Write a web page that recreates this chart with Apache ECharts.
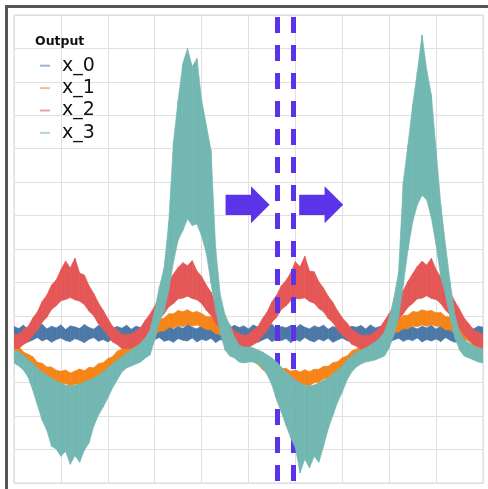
<!DOCTYPE html>
<html>
<head>
<meta charset="utf-8">
<script src="https://cdn.jsdelivr.net/npm/echarts@6/dist/echarts.min.js"></script>
<style>
  html, body { margin: 0; padding: 0; background: #fff; }
  #chart { width: 488px; height: 489px; }
</style>
</head>
<body>
<div id="chart"></div>
<script>
// Four noisy outputs sampled every 0.1 time units; each is stored as the
// upper and lower edge of its noise band.
const seriesNames = ['x_0', 'x_1', 'x_2', 'x_3'];
const sampleStep = 0.1;

const x0Upper = [
  4.68,4.62,4.72,4.60,4.70,4.66,4.75,4.61,4.69,4.64,
  4.73,4.59,4.70,4.67,4.62,4.74,4.65,4.60,4.71,4.66,
  4.76,4.62,4.68,4.63,4.72,4.60,4.69,4.65,4.74,4.61,
  4.70,4.64,4.67,4.73,4.60,4.69,4.62,4.75,4.66,4.61,
  4.71,4.64,4.68,4.74,4.60,4.67,4.63,4.72,4.65,4.70,
  4.61,4.73,4.66,4.62,4.69,4.75,4.60,4.68,4.64,4.71,
  4.62,4.74,4.66,4.61,4.70,4.65,4.72,4.60,4.68,4.63,
  4.75,4.62,4.69,4.66,4.71,4.61,4.73,4.64,4.68,4.60,
  4.72,4.65,4.70,4.62,4.74,4.67,4.61,4.69,4.64,4.72,
  4.60,4.70,4.66,4.73,4.62,4.68,4.64,4.71,4.61,4.69,
  4.66
];
const x0Lower = [
  4.30,4.24,4.33,4.22,4.28,4.35,4.25,4.31,4.21,4.29,
  4.34,4.26,4.23,4.32,4.27,4.20,4.30,4.35,4.24,4.29,
  4.22,4.31,4.27,4.34,4.25,4.21,4.30,4.26,4.33,4.23,
  4.29,4.35,4.24,4.28,4.21,4.32,4.27,4.25,4.34,4.22,
  4.30,4.26,4.33,4.20,4.29,4.24,4.35,4.27,4.22,4.31,
  4.25,4.33,4.21,4.28,4.34,4.23,4.30,4.26,4.32,4.20,
  4.29,4.24,4.35,4.27,4.22,4.31,4.25,4.33,4.21,4.28,
  4.34,4.26,4.23,4.30,4.27,4.35,4.22,4.29,4.25,4.32,
  4.21,4.28,4.33,4.24,4.30,4.26,4.34,4.22,4.29,4.25,
  4.31,4.23,4.35,4.27,4.21,4.30,4.26,4.33,4.24,4.28,
  4.30
];

const x1Upper = [
  4.17,4.09,3.92,3.85,3.78,3.61,3.58,3.47,3.47,3.37,
  3.34,3.38,3.29,3.35,3.41,3.36,3.46,3.45,3.57,3.60,
  3.72,3.78,3.94,4.00,4.09,4.25,4.33,4.49,4.56,4.70,
  4.76,4.90,4.93,5.06,5.06,5.16,5.12,5.18,5.10,5.13,
  5.07,4.98,4.97,4.83,4.78,4.62,4.55,4.39,4.31,4.15,
  4.06,3.92,3.86,3.72,3.67,3.54,3.53,3.42,3.43,3.34,
  3.38,3.32,3.39,3.33,3.40,3.40,3.49,3.49,3.60,3.63,
  3.75,3.80,3.95,4.01,4.10,4.24,4.32,4.46,4.54,4.67,
  4.73,4.86,4.89,5.01,5.02,5.13,5.11,5.18,5.14,5.16,
  5.09,5.10,4.98,4.96,4.83,4.78,4.62,4.55,4.39,4.31,
  4.17
];
const x1Lower = [
  3.87,3.79,3.62,3.55,3.41,3.27,3.24,3.13,3.09,2.98,
  2.96,2.98,2.90,2.96,2.95,2.94,3.07,3.10,3.22,3.27,
  3.40,3.46,3.62,3.69,3.83,3.97,4.03,4.17,4.22,4.36,
  4.42,4.54,4.55,4.65,4.64,4.71,4.68,4.75,4.70,4.73,
  4.67,4.59,4.58,4.47,4.43,4.30,4.24,4.09,4.01,3.87,
  3.78,3.63,3.55,3.39,3.32,3.18,3.15,3.02,3.01,2.92,
  2.95,2.88,2.94,2.91,3.00,3.01,3.12,3.14,3.26,3.31,
  3.44,3.49,3.64,3.71,3.84,3.96,4.03,4.16,4.21,4.33,
  4.40,4.50,4.52,4.62,4.61,4.70,4.68,4.73,4.69,4.74,
  4.69,4.69,4.58,4.58,4.47,4.43,4.30,4.24,4.09,4.01,
  3.88
];

const x2Upper = [
  4.44,4.44,4.59,4.68,4.93,5.12,5.43,5.62,5.92,6.07,
  6.38,6.64,6.43,6.72,6.28,6.22,5.90,5.67,5.39,5.17,
  4.92,4.69,4.58,4.44,4.44,4.45,4.55,4.65,4.87,5.05,
  5.29,5.57,5.76,6.02,6.25,6.45,6.59,6.50,6.65,6.34,
  6.18,5.92,5.71,5.41,5.18,4.91,4.73,4.55,4.47,4.41,
  4.45,4.58,4.68,4.92,5.12,5.42,5.62,5.90,6.06,6.29,
  6.62,6.47,6.78,6.34,6.32,6.02,5.83,5.59,5.40,5.15,
  4.94,4.79,4.60,4.52,4.41,4.42,4.43,4.53,4.65,4.85,
  5.07,5.27,5.56,5.76,6.03,6.26,6.48,6.63,6.52,6.72,
  6.38,6.16,5.94,5.71,5.43,5.20,4.93,4.76,4.58,4.51,
  4.46
];
const x2Lower = [
  4.03,4.02,4.14,4.22,4.42,4.56,4.81,4.96,5.19,5.30,
  5.45,5.49,5.55,5.48,5.44,5.34,5.14,5.00,4.76,4.60,
  4.42,4.22,4.14,4.02,4.03,4.03,4.12,4.19,4.37,4.50,
  4.68,4.92,5.06,5.27,5.37,5.51,5.53,5.59,5.52,5.48,
  5.37,5.17,5.02,4.78,4.62,4.40,4.27,4.11,4.05,4.00,
  4.03,4.14,4.22,4.42,4.56,4.81,4.96,5.19,5.30,5.45,
  5.52,5.51,5.54,5.43,5.38,5.22,5.12,4.92,4.80,4.58,
  4.42,4.31,4.15,4.09,4.00,4.01,4.02,4.11,4.18,4.36,
  4.53,4.67,4.90,5.06,5.26,5.37,5.51,5.53,5.60,5.52,
  5.49,5.37,5.17,5.03,4.80,4.64,4.42,4.30,4.14,4.09,
  4.04
];

const x3Upper = [
  3.98,3.92,3.83,3.68,3.59,3.44,3.32,3.23,3.14,3.05,
  2.99,2.93,2.90,2.93,2.96,3.02,3.08,3.14,3.23,3.32,
  3.44,3.56,3.68,3.77,3.89,3.98,4.07,4.19,4.34,4.58,
  5.17,5.86,6.43,7.81,10.20,11.45,12.55,13.00,12.45,12.70,
  11.46,10.71,9.96,7.00,5.62,5.03,4.73,4.37,4.13,4.07,
  4.07,4.04,3.98,3.92,3.83,3.74,3.62,3.47,3.32,3.20,
  3.08,2.99,2.93,2.90,2.93,2.99,3.08,3.14,3.26,3.38,
  3.50,3.68,3.80,3.92,3.98,4.04,4.13,4.22,4.34,4.52,
  4.94,5.53,6.31,9.00,10.11,11.31,12.30,13.40,12.35,11.60,
  9.96,8.32,7.12,6.01,5.03,4.52,4.28,4.19,4.10,4.04,
  4.01
];
const x3Lower = [
  3.59,3.50,3.38,3.17,2.78,2.33,1.88,1.58,1.10,1.02,
  0.80,0.95,0.56,0.82,0.62,0.98,1.20,1.70,2.03,2.27,
  2.54,2.84,3.08,3.32,3.44,3.50,3.56,3.62,3.74,3.83,
  4.28,4.82,5.12,5.77,6.61,7.27,7.55,7.90,7.70,7.75,
  7.39,6.88,5.98,5.17,4.49,3.98,3.80,3.74,3.62,3.59,
  3.62,3.62,3.56,3.44,3.23,2.93,2.48,2.12,1.73,1.35,
  1.05,0.30,0.72,0.45,0.80,0.62,1.10,1.62,2.03,2.42,
  2.72,3.08,3.32,3.47,3.56,3.62,3.65,3.68,3.74,3.80,
  4.04,4.43,4.94,5.92,6.97,7.81,8.32,8.61,8.47,7.93,
  7.12,6.16,5.62,4.94,4.34,3.98,3.80,3.74,3.68,3.62,
  3.59
];

// Window markers (time) and the two direction arrows (time, level)
const markerTimes = [5.61, 5.95];
const arrowAnchors = [[4.98, 8.32], [6.55, 8.32]];

const bands = [
  [x0Upper, x0Lower],
  [x1Upper, x1Lower],
  [x2Upper, x2Lower],
  [x3Upper, x3Lower]
];
const palette = ['#4c78a8', '#f58518', '#e45756', '#72b7b2'];
const accent = '#5b33e8';
const font = 'DejaVu Sans';

// One custom series per output: every sample interval becomes a filled
// quadrilateral between the lower and upper noise edges.
function bandSeries(name, upper, lower, color, k) {
  const n = Math.min(upper.length, lower.length);
  const segments = [];
  for (let i = 0; i + 1 < n; i++) {
    const t0 = +(i * sampleStep).toFixed(2);
    const t1 = +((i + 1) * sampleStep).toFixed(2);
    segments.push([t0, lower[i], upper[i], t1, lower[i + 1], upper[i + 1]]);
  }
  return {
    name: name,
    type: 'custom',
    coordinateSystem: 'cartesian2d',
    data: segments,
    encode: { x: [0, 3], y: [1, 2, 4, 5] },
    itemStyle: { color: color },
    silent: true,
    animation: false,
    clip: true,
    z: 2 + k,
    renderItem: function (params, api) {
      const a = api.coord([api.value(0), api.value(2)]);
      const b = api.coord([api.value(3), api.value(5)]);
      const c = api.coord([api.value(3), api.value(4)]);
      const d = api.coord([api.value(0), api.value(1)]);
      return {
        type: 'polygon',
        shape: { points: [a, b, c, d] },
        style: { fill: color, stroke: color, lineWidth: 0.7 }
      };
    }
  };
}

const series = bands.map((b, k) => bandSeries(seriesNames[k], b[0], b[1], palette[k], k));

// Dashed window markers and arrows drawn above every band
series.push({
  name: 'window markers',
  type: 'line',
  data: [],
  silent: true,
  animation: false,
  z: 20,
  markLine: {
    silent: true, symbol: 'none', animation: false,
    label: { show: false },
    lineStyle: { color: accent, width: 5, type: [16, 12], dashOffset: 26, opacity: 1 },
    data: markerTimes.map(t => ({ xAxis: t }))
  },
  markPoint: {
    silent: true, animation: false,
    symbol: 'path://M0,8.3 L25,8.3 L25,0 L43.3,18.3 L25,36.6 L25,28.3 L0,28.3 Z',
    symbolSize: [44, 37],
    itemStyle: { color: accent },
    label: { show: false },
    data: arrowAnchors.map(a => ({ coord: a }))
  }
});

const chart = echarts.init(document.getElementById('chart'), null, { renderer: 'canvas' });
chart.setOption({
  animation: false,
  backgroundColor: '#ffffff',
  title: {
    text: 'Output', left: 35, top: 35, padding: 0,
    textStyle: { fontFamily: font, fontSize: 12.5, fontWeight: 'bold', color: '#111' }
  },
  legend: {
    orient: 'vertical', left: 40, top: 54.5, padding: 0, itemGap: 0,
    icon: 'rect', itemWidth: 10, itemHeight: 2,
    itemStyle: { opacity: 0.55 },
    data: seriesNames,
    textStyle: { fontFamily: font, fontSize: 19, color: '#111', lineHeight: 22.4, padding: [0, 0, 0, 7] },
    selectedMode: false
  },
  grid: {
    left: 14, top: 15, width: 469, height: 468,
    show: true, borderColor: '#d6d6d6', borderWidth: 1, backgroundColor: '#ffffff'
  },
  xAxis: {
    type: 'value', min: 0, max: 10, interval: 1,
    axisLine: { show: false }, axisTick: { show: false }, axisLabel: { show: false },
    splitLine: { show: true, lineStyle: { color: '#e0e0e0', width: 1 } }
  },
  yAxis: {
    type: 'value', min: 0, max: 14, interval: 1,
    axisLine: { show: false }, axisTick: { show: false }, axisLabel: { show: false },
    splitLine: { show: true, lineStyle: { color: '#e0e0e0', width: 1 } }
  },
  graphic: [
    { type: 'rect', left: 5, top: 5, shape: { width: 483, height: 3 }, style: { fill: '#555555' }, z: 100 },
    { type: 'rect', left: 5, top: 5, shape: { width: 3, height: 484 }, style: { fill: '#555555' }, z: 100 }
  ],
  series: series
});
</script>
</body>
</html>
